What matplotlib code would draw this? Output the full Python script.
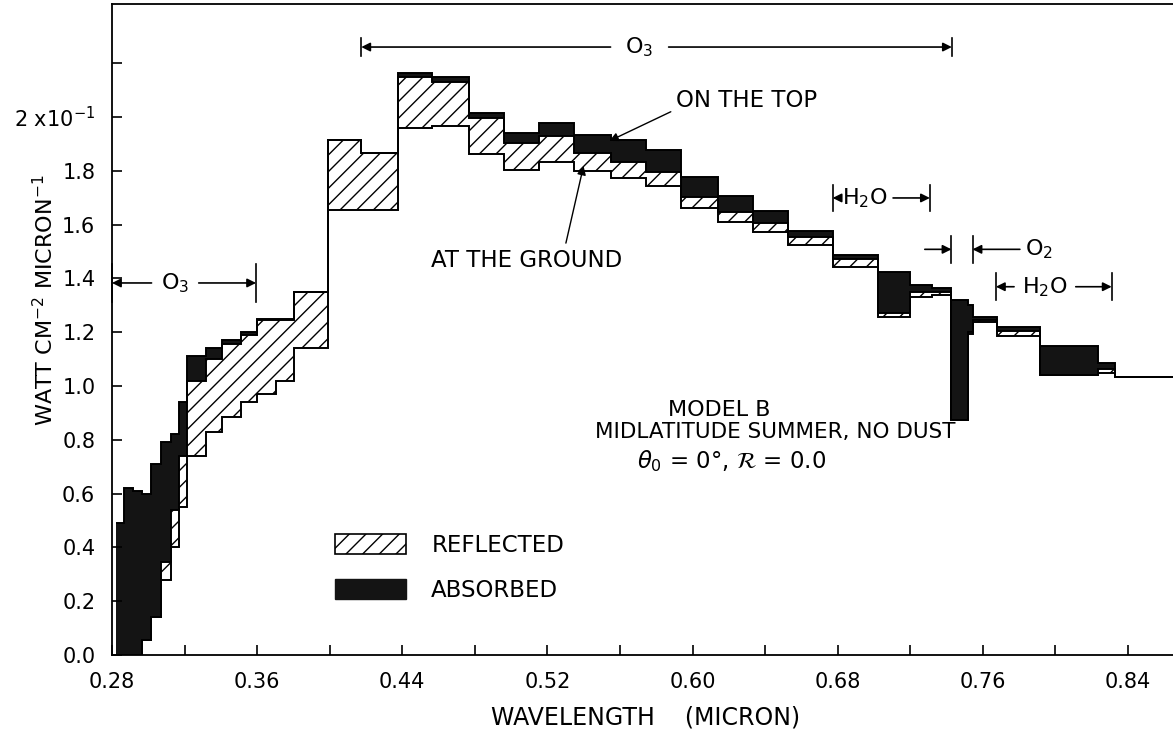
import numpy as np
import matplotlib.pyplot as plt
from matplotlib.patches import Patch

plt.rcParams['font.family'] = ['DejaVu Sans']
plt.rcParams['hatch.linewidth'] = 1.0

# bin edges (micron) and the three step curves (units of 1e-1 W cm-2 micron-1)
wl_edges = [0.2822, 0.2866, 0.2916, 0.2966, 0.3014, 0.3069, 0.3124, 0.3170,
            0.3215, 0.3317, 0.3407, 0.3510, 0.3600, 0.3703, 0.3804, 0.3992,
            0.4172, 0.4374, 0.4566, 0.4770, 0.4963, 0.5156, 0.5349, 0.5548,
            0.5745, 0.5938, 0.6140, 0.6333, 0.6526, 0.6774, 0.7022, 0.7197,
            0.7317, 0.7427, 0.7517, 0.7545, 0.7676, 0.7914, 0.8234, 0.8328,
            0.8648]
# flux on the top of the atmosphere
top_flux = [0.49, 0.62, 0.61, 0.60, 0.71, 0.79, 0.82, 0.94,
            1.11, 1.14, 1.17, 1.20, 1.25, 1.25, 1.35, 1.915,
            1.867, 2.162, 2.150, 2.016, 1.940, 1.978, 1.933, 1.914,
            1.877, 1.776, 1.706, 1.652, 1.577, 1.487, 1.425, 1.375,
            1.363, 1.320, 1.300, 1.255, 1.218, 1.149, 1.084, 1.035]
# top minus absorbed
mid_flux = [0.0, 0.0, 0.0, 0.055, 0.14, 0.345, 0.54, 0.74,
            1.02, 1.10, 1.155, 1.19, 1.245, 1.245, 1.35, 1.915,
            1.867, 2.150, 2.130, 1.995, 1.902, 1.929, 1.865, 1.834,
            1.797, 1.704, 1.648, 1.607, 1.553, 1.471, 1.270, 1.351,
            1.350, 0.875, 1.200, 1.247, 1.205, 1.041, 1.062, 1.035]
# flux at the ground
ground_flux = [0.0, 0.0, 0.0, 0.055, 0.14, 0.28, 0.40, 0.55,
               0.74, 0.83, 0.885, 0.94, 0.97, 1.02, 1.14, 1.655,
               1.655, 1.958, 1.965, 1.862, 1.803, 1.832, 1.800, 1.772,
               1.743, 1.660, 1.611, 1.574, 1.524, 1.443, 1.255, 1.332,
               1.338, 0.875, 1.195, 1.239, 1.186, 1.041, 1.050, 1.035]

x_ticks = [0.28, 0.32, 0.36, 0.40, 0.44, 0.48, 0.52, 0.56, 0.60, 0.64,
           0.68, 0.72, 0.76, 0.80, 0.84]
x_labels = ['0.28', '', '0.36', '', '0.44', '', '0.52', '', '0.60', '',
            '0.68', '', '0.76', '', '0.84']
y_ticks = [0.0, 0.2, 0.4, 0.6, 0.8, 1.0, 1.2, 1.4, 1.6, 1.8, 2.0, 2.2]
y_labels = ['0.0', '0.2', '0.4', '0.6', '0.8', '1.0', '1.2', '1.4', '1.6',
            '1.8', '2 x10$^{-1}$', '']

fig = plt.figure(figsize=(11.73, 7.36), dpi=100)
ax = fig.add_axes([112 / 1173, 1 - 655 / 736, 1 - 112 / 1173, 651 / 736])

ax.stairs(top_flux, wl_edges, baseline=mid_flux, fill=True,
          facecolor='#141414', edgecolor='#141414', lw=0)
ax.stairs(mid_flux, wl_edges, baseline=ground_flux, fill=True,
          facecolor='white', edgecolor='black', hatch='//', lw=0)
for curve in (top_flux, mid_flux, ground_flux):
    ax.stairs(curve, wl_edges, baseline=None, color='black', lw=1.4)

ax.set_xlim(0.28, 0.8648)
ax.set_ylim(0, 2.42)
ax.set_xticks(x_ticks, x_labels)
ax.set_yticks(y_ticks, y_labels)
ax.tick_params(direction='in', length=7, width=1.2, labelsize=15)
ax.tick_params(axis='x', pad=12)
ax.tick_params(axis='y', pad=12)
ax.spines['right'].set_visible(False)
for s in ('left', 'bottom', 'top'):
    ax.spines[s].set_linewidth(1.3)

fig.text(45 / 1173, 1 - 300 / 736, 'WATT CM$^{-2}$ MICRON$^{-1}$', rotation=90,
         ha='center', va='center', fontsize=16)
fig.text(646 / 1173, 1 - 718 / 736, 'WAVELENGTH    (MICRON)', ha='center',
         va='center', fontsize=17)

arrow = dict(arrowstyle='-|>', color='black', lw=1.2, mutation_scale=13,
             shrinkA=0, shrinkB=0)


def bracket(x0, x1, y, label, lx, gap, h, fs=16):
    ax.plot([x0, x0], [y - h, y + h], color='black', lw=1.2, clip_on=False)
    ax.plot([x1, x1], [y - h, y + h], color='black', lw=1.2, clip_on=False)
    ax.annotate('', xy=(x0, y), xytext=(lx - gap, y), arrowprops=arrow)
    ax.annotate('', xy=(x1, y), xytext=(lx + gap, y), arrowprops=arrow)
    ax.text(lx, y, label, ha='center', va='center', fontsize=fs)


bracket(0.4174, 0.7429, 2.26, 'O$_3$', 0.5708, 0.016, 0.035)
bracket(0.2800, 0.3594, 1.383, 'O$_3$', 0.3148, 0.013, 0.07)
bracket(0.6772, 0.7308, 1.699, 'H$_2$O', 0.6950, 0.0155, 0.05)
bracket(0.7672, 0.8310, 1.369, 'H$_2$O', 0.7942, 0.017, 0.05)

# O2 band marks
ax.plot([0.7427, 0.7427], [1.458, 1.558], color='black', lw=1.2)
ax.plot([0.7543, 0.7543], [1.458, 1.558], color='black', lw=1.2)
ax.annotate('', xy=(0.7427, 1.508), xytext=(0.7280, 1.508), arrowprops=arrow)
ax.annotate('', xy=(0.7543, 1.508), xytext=(0.7804, 1.508), arrowprops=arrow)
ax.text(0.7830, 1.508, 'O$_2$', ha='left', va='center', fontsize=16)

ax.annotate('ON THE TOP', xy=(0.5542, 1.911), xytext=(0.6298, 2.063),
            ha='center', va='center', fontsize=16.5,
            arrowprops=dict(arrowstyle='-|>', color='black', lw=1.0,
                            mutation_scale=13, shrinkB=0,
                            relpos=(0.0, 0.1)))
ax.annotate('AT THE GROUND', xy=(0.5399, 1.818), xytext=(0.5084, 1.468),
            ha='center', va='center', fontsize=16.5,
            arrowprops=dict(arrowstyle='-|>', color='black', lw=1.0,
                            mutation_scale=13, shrinkB=0,
                            relpos=(0.7, 1.0)))

ax.text(0.6149, 0.911, 'MODEL B', ha='center', va='center', fontsize=16)
ax.text(0.6458, 0.829, 'MIDLATITUDE SUMMER, NO DUST', ha='center',
        va='center', fontsize=15.5)
ax.text(0.6215, 0.721, r'$\theta_0$ = 0°, $\mathcal{R}$ = 0.0', ha='center',
        va='center', fontsize=16.5)

handles = [Patch(facecolor='white', edgecolor='black', hatch='//', lw=1.2),
           Patch(facecolor='#141414', edgecolor='#141414')]
ax.legend(handles, ['REFLECTED', 'ABSORBED'], loc='upper left',
          bbox_to_anchor=(0.2102, 0.186), frameon=False, fontsize=16.5,
          handlelength=3.1, handleheight=0.95, labelspacing=0.95,
          handletextpad=1.1, borderpad=0, borderaxespad=0)

fig.savefig('out.png', dpi=100)
